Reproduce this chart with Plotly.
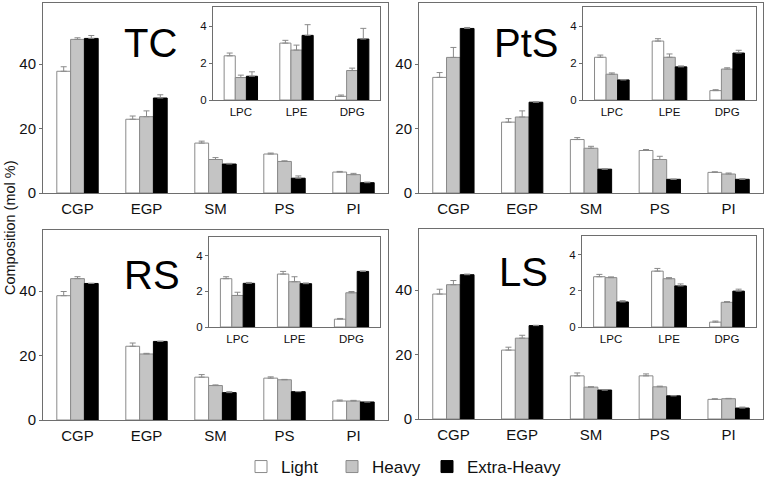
import plotly.graph_objects as go

W, H = 766, 478

MAIN_CATS = ["CGP", "EGP", "SM", "PS", "PI"]
INSET_CATS = ["LPC", "LPE", "DPG"]
SERIES = ["Light", "Heavy", "Extra-Heavy"]
MAIN_YTICKS = [0, 20, 40]
INSET_YTICKS = [0, 2, 4]

# ---- TC ----
TC_LIGHT = [37.8, 22.9, 15.5, 12.1, 6.5]
TC_LIGHT_ERR = [1.4, 1.0, 0.6, 0.3, 0.2]
TC_HEAVY = [47.7, 23.7, 10.4, 9.8, 5.7]
TC_HEAVY_ERR = [0.5, 1.8, 0.6, 0.2, 0.4]
TC_XH = [48.0, 29.5, 9.0, 4.6, 3.2]
TC_XH_ERR = [0.9, 1.0, 0.2, 0.7, 0.2]
TC_IN_LIGHT = [2.40, 3.09, 0.20]
TC_IN_LIGHT_ERR = [0.15, 0.15, 0.07]
TC_IN_HEAVY = [1.22, 2.71, 1.60]
TC_IN_HEAVY_ERR = [0.13, 0.27, 0.13]
TC_IN_XH = [1.29, 3.51, 3.31]
TC_IN_XH_ERR = [0.24, 0.58, 0.58]

# ---- PtS ----
PTS_LIGHT = [35.9, 22.0, 16.6, 13.2, 6.4]
PTS_LIGHT_ERR = [1.5, 1.1, 0.6, 0.3, 0.2]
PTS_HEAVY = [42.1, 23.6, 13.9, 10.4, 5.9]
PTS_HEAVY_ERR = [3.1, 1.9, 0.6, 1.0, 0.3]
PTS_XH = [51.1, 28.2, 7.4, 4.25, 4.25]
PTS_XH_ERR = [0.3, 0.1, 0.1, 0.05, 0.15]
PTS_IN_LIGHT = [2.32, 3.20, 0.51]
PTS_IN_LIGHT_ERR = [0.12, 0.13, 0.05]
PTS_IN_HEAVY = [1.40, 2.32, 1.68]
PTS_IN_HEAVY_ERR = [0.07, 0.18, 0.07]
PTS_IN_XH = [1.09, 1.80, 2.55]
PTS_IN_XH_ERR = [0.02, 0.05, 0.15]

# ---- RS ----
RS_LIGHT = [38.6, 22.9, 13.3, 13.0, 5.9]
RS_LIGHT_ERR = [1.3, 1.0, 0.8, 0.4, 0.3]
RS_HEAVY = [43.9, 20.5, 10.7, 12.5, 5.9]
RS_HEAVY_ERR = [0.6, 0.2, 0.2, 0.1, 0.2]
RS_XH = [42.4, 24.4, 8.5, 8.8, 5.6]
RS_XH_ERR = [0.05, 0.05, 0.3, 0.05, 0.05]
RS_IN_LIGHT = [2.71, 2.97, 0.44]
RS_IN_LIGHT_ERR = [0.11, 0.15, 0.04]
RS_IN_HEAVY = [1.77, 2.54, 1.92]
RS_IN_HEAVY_ERR = [0.18, 0.28, 0.07]
RS_IN_XH = [2.45, 2.43, 3.12]
RS_IN_XH_ERR = [0.05, 0.04, 0.02]

# ---- LS ----
LS_LIGHT = [38.8, 21.4, 13.4, 13.4, 6.1]
LS_LIGHT_ERR = [1.5, 0.9, 0.9, 0.6, 0.2]
LS_HEAVY = [41.7, 25.1, 9.9, 10.0, 6.3]
LS_HEAVY_ERR = [1.3, 0.9, 0.1, 0.2, 0.1]
LS_XH = [44.8, 29.0, 9.0, 7.2, 3.4]
LS_XH_ERR = [0.2, 0.1, 0.05, 0.05, 0.3]
LS_IN_LIGHT = [2.79, 3.10, 0.27]
LS_IN_LIGHT_ERR = [0.13, 0.15, 0.06]
LS_IN_HEAVY = [2.74, 2.68, 1.37]
LS_IN_HEAVY_ERR = [0.04, 0.06, 0.04]
LS_IN_XH = [1.39, 2.28, 1.99]
LS_IN_XH_ERR = [0.07, 0.11, 0.11]

PANEL_NAMES = ["TC", "PtS", "RS", "LS"]

FILLS = ["#ffffff", "#c4c4c4", "#000000"]
LINES = ["#8a8a8a", "#8a8a8a", "#000000"]
FRAME = "#6e6e6e"
FONT = "Liberation Sans, Arial, sans-serif"


def fx(px):
    return px / W


def fy(py):
    return 1 - py / H


# pixel boxes (left, right, top, bottom)
MAIN_BOX = [(43, 388, 3, 193), (419, 763, 3, 193), (43, 388, 230, 420), (419, 763, 229, 419)]
INSET_BOX = [(213, 380, 7, 100), (583, 756, 7, 100), (209, 380, 237, 327), (582, 756, 236, 327)]
TITLE_POS = [(150, 43), (526, 43), (152, 275), (523, 272)]
LEGEND_LEFT = [241, 332, 427]
LEGEND_Y = 467

main_data = [
    [(TC_LIGHT, TC_LIGHT_ERR), (TC_HEAVY, TC_HEAVY_ERR), (TC_XH, TC_XH_ERR)],
    [(PTS_LIGHT, PTS_LIGHT_ERR), (PTS_HEAVY, PTS_HEAVY_ERR), (PTS_XH, PTS_XH_ERR)],
    [(RS_LIGHT, RS_LIGHT_ERR), (RS_HEAVY, RS_HEAVY_ERR), (RS_XH, RS_XH_ERR)],
    [(LS_LIGHT, LS_LIGHT_ERR), (LS_HEAVY, LS_HEAVY_ERR), (LS_XH, LS_XH_ERR)],
]
inset_data = [
    [(TC_IN_LIGHT, TC_IN_LIGHT_ERR), (TC_IN_HEAVY, TC_IN_HEAVY_ERR), (TC_IN_XH, TC_IN_XH_ERR)],
    [(PTS_IN_LIGHT, PTS_IN_LIGHT_ERR), (PTS_IN_HEAVY, PTS_IN_HEAVY_ERR), (PTS_IN_XH, PTS_IN_XH_ERR)],
    [(RS_IN_LIGHT, RS_IN_LIGHT_ERR), (RS_IN_HEAVY, RS_IN_HEAVY_ERR), (RS_IN_XH, RS_IN_XH_ERR)],
    [(LS_IN_LIGHT, LS_IN_LIGHT_ERR), (LS_IN_HEAVY, LS_IN_HEAVY_ERR), (LS_IN_XH, LS_IN_XH_ERR)],
]

LEGEND_REFS = ["legend", "legend2", "legend3"]

fig = go.Figure()
layout = dict(
    width=W, height=H,
    margin=dict(l=0, r=0, t=0, b=0, autoexpand=False),
    paper_bgcolor="white", plot_bgcolor="rgba(0,0,0,0)",
    barmode="group", bargap=0.4, bargroupgap=0,
    font=dict(family=FONT, color="#111"),
    showlegend=True,
)

ax = 0
annotations = []
for p in range(4):
    for kind in ("main", "inset"):
        ax += 1
        sfx = "" if ax == 1 else str(ax)
        cats = MAIN_CATS if kind == "main" else INSET_CATS
        data = main_data[p] if kind == "main" else inset_data[p]
        box = MAIN_BOX[p] if kind == "main" else INSET_BOX[p]
        for s in range(3):
            vals, errs = data[s]
            fig.add_trace(go.Bar(
                x=cats, y=vals, name=SERIES[s],
                legendgroup=SERIES[s],
                legend=LEGEND_REFS[s],
                showlegend=(ax == 1),
                marker=dict(color=FILLS[s], line=dict(color=LINES[s], width=1)),
                error_y=dict(type="data", symmetric=False, array=errs,
                             arrayminus=[0] * len(errs), color="#8a8a8a",
                             thickness=1, width=3),
                xaxis="x" + sfx, yaxis="y" + sfx,
                offsetgroup=str(s),
            ))
        l, r, t, b = box
        fs = 15 if kind == "main" else 11.5
        layout["xaxis" + sfx] = dict(
            domain=[fx(l), fx(r)], anchor="y" + sfx,
            type="category", range=[-0.5, len(cats) - 0.5],
            showline=True, linecolor=FRAME, linewidth=1, mirror=True,
            ticks="", showgrid=False, zeroline=False,
            tickfont=dict(size=fs, color="#111", family=FONT),
            ticklabelstandoff=2 if kind == "main" else 1,
        )
        layout["yaxis" + sfx] = dict(
            domain=[fy(b), fy(t)], anchor="x" + sfx,
            range=[0, 59] if kind == "main" else [0, 5.05],
            tickvals=MAIN_YTICKS if kind == "main" else INSET_YTICKS,
            showline=True, linecolor=FRAME, linewidth=1, mirror=True,
            ticks="outside", ticklen=3, tickcolor=FRAME,
            showgrid=False, zeroline=False,
            tickfont=dict(size=fs, color="#111", family=FONT),
        )
    tx, ty = TITLE_POS[p]
    annotations.append(dict(
        text=PANEL_NAMES[p], x=fx(tx), y=fy(ty), xref="paper", yref="paper",
        xanchor="center", yanchor="middle", showarrow=False,
        font=dict(size=40, color="#000", family=FONT),
    ))

annotations.append(dict(
    text="Composition (mol %)", x=fx(10), y=fy(228), xref="paper", yref="paper",
    xanchor="center", yanchor="middle", showarrow=False, textangle=-90,
    font=dict(size=14.5, color="#111", family=FONT),
))

layout["annotations"] = annotations
for s, ref in enumerate(LEGEND_REFS):
    layout[ref] = dict(
        orientation="h", x=fx(LEGEND_LEFT[s]), y=fy(LEGEND_Y),
        xanchor="left", yanchor="middle",
        font=dict(size=17, color="#111", family=FONT),
        bgcolor="rgba(0,0,0,0)", borderwidth=0,
    )
fig.update_layout(**layout)
fig.write_html(
    "out.html",
    config={"displayModeBar": False},
    post_script="document.body.style.margin='0';document.body.style.overflow='hidden';",
)
